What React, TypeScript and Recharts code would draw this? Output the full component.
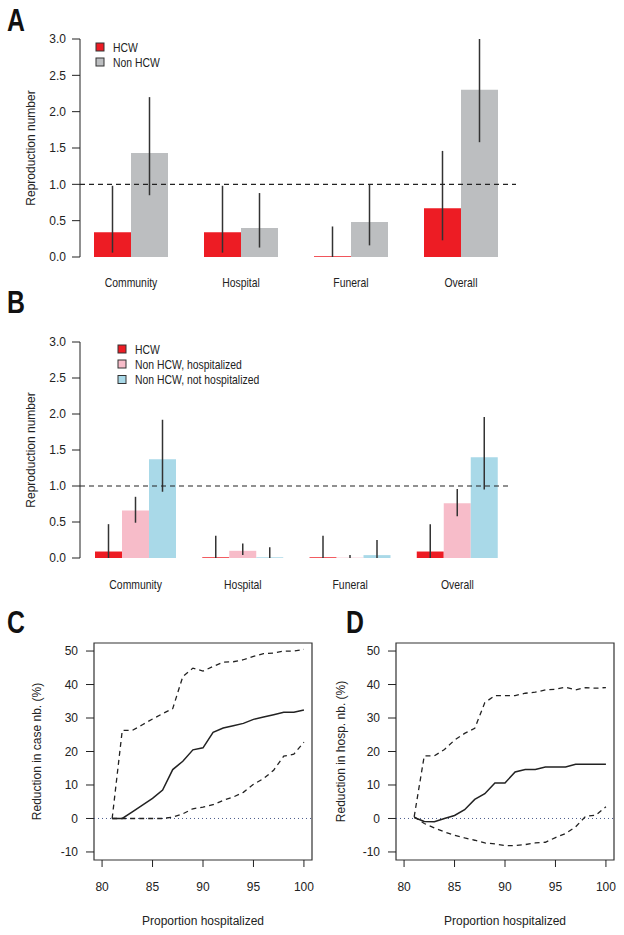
import React from "react";
import {
  BarChart,
  Bar,
  ErrorBar,
  LineChart,
  Line,
  XAxis,
  YAxis,
  ReferenceLine,
  ReferenceArea,
} from "recharts";

const categories = ["Community", "Hospital", "Funeral", "Overall"];

// Panel A
const hcwA = [0.34, 0.34, 0.01, 0.67];
const hcwALow = [0.06, 0.06, 0, 0.23];
const hcwAHigh = [0.98, 0.98, 0.42, 1.46];
const nonHcwA = [1.43, 0.4, 0.48, 2.3];
const nonHcwALow = [0.85, 0.13, 0.16, 1.58];
const nonHcwAHigh = [2.2, 0.88, 1.0, 3.0];

// Panel B
const hcwB = [0.09, 0.01, 0.01, 0.09];
const hcwBLow = [0, 0, 0, 0];
const hcwBHigh = [0.47, 0.31, 0.31, 0.47];
const hospB = [0.66, 0.1, 0.005, 0.76];
const hospBLow = [0.49, 0.04, 0, 0.58];
const hospBHigh = [0.85, 0.2, 0.04, 0.96];
const notHospB = [1.37, 0.01, 0.04, 1.4];
const notHospBLow = [0.92, 0, 0, 0.95];
const notHospBHigh = [1.92, 0.15, 0.25, 1.96];

const rTicks = [0, 0.5, 1, 1.5, 2, 2.5, 3];

// Panels C and D
const propHosp = [81, 82, 83, 84, 85, 86, 87, 88, 89, 90, 91, 92, 93, 94, 95, 96, 97, 98, 99, 100];
const caseMid = [0, 0, 2, 4, 6, 8.5, 14.6, 17.1, 20.5, 21.1, 25.7, 27, 27.7, 28.4, 29.6, 30.3, 31, 31.7, 31.7, 32.4];
const caseHigh = [0, 26.3, 26.3, 28, 29.7, 31.3, 32.8, 42.4, 44.9, 44, 45.4, 46.7, 46.8, 47.4, 48.4, 49.2, 49.4, 50, 50, 50.5];
const caseLow = [0, 0, 0, 0, 0, 0, 0.4, 1.4, 2.9, 3.4, 4.1, 5.4, 6.4, 7.8, 10.2, 11.9, 14.4, 18.6, 19.2, 22.8];
const hospMid = [0.3, -0.9, -1, 0, 0.9, 2.6, 5.7, 7.4, 10.6, 10.6, 13.9, 14.6, 14.6, 15.4, 15.4, 15.4, 16.2, 16.2, 16.2, 16.2];
const hospHigh = [0.5, 18.7, 18.7, 20.6, 23.4, 25.4, 26.9, 34.6, 36.7, 36.7, 36.7, 37.4, 37.7, 38.4, 38.6, 39.2, 38.4, 39.1, 38.9, 39.1];
const hospLow = [0.5, -1.5, -2.8, -4, -5, -5.8, -6.5, -7.3, -7.6, -8.1, -8.1, -7.8, -7.3, -7.1, -5.7, -4.5, -2.5, 0.7, 1, 3.5];

const xTicks = [80, 85, 90, 95, 100];
const yTicks = [-10, 0, 10, 20, 30, 40, 50];

const RED = "#ed1c24";
const GREY = "#bcbec0";
const PINK = "#f7bcc9";
const BLUE = "#a9d9e8";
const INK = "#222";
const SANS = "'Liberation Sans', Arial, sans-serif";

const err = (v: number, lo: number, hi: number) => [v - lo, hi - v];

const dataA = categories.map((c, i) => ({
  cat: c,
  hcw: hcwA[i],
  hcwErr: err(hcwA[i], hcwALow[i], hcwAHigh[i]),
  non: nonHcwA[i],
  nonErr: err(nonHcwA[i], nonHcwALow[i], nonHcwAHigh[i]),
}));

const dataB = categories.map((c, i) => ({
  cat: c,
  hcw: hcwB[i],
  hcwErr: err(hcwB[i], hcwBLow[i], hcwBHigh[i]),
  hosp: hospB[i],
  hospErr: err(hospB[i], hospBLow[i], hospBHigh[i]),
  notHosp: notHospB[i],
  notHospErr: err(notHospB[i], notHospBLow[i], notHospBHigh[i]),
}));

const dataC = propHosp.map((x, i) => ({ x, mid: caseMid[i], lo: caseLow[i], hi: caseHigh[i] }));
const dataD = propHosp.map((x, i) => ({ x, mid: hospMid[i], lo: hospLow[i], hi: hospHigh[i] }));

const tickStyle = { fill: INK, fontSize: 12, fontFamily: SANS };

// the original uses a condensed face; squeeze Liberation Sans horizontally
function NarrowText({ x, y, children, anchor = "start", size = 13, bold = false, dy }: any) {
  return (
    <text
      transform={`translate(${x},${y}) scale(0.8,1)`}
      textAnchor={anchor}
      dy={dy}
      fontSize={size}
      fontWeight={bold ? "bold" : "normal"}
      fontFamily={SANS}
      fill={bold ? "#111" : INK}
    >
      {children}
    </text>
  );
}

const CatTick = (props: any) => (
  <NarrowText x={props.x} y={props.y} anchor="middle" dy="0.71em">
    {props.payload.value}
  </NarrowText>
);

function errBar(key: string) {
  return <ErrorBar dataKey={key} width={0} stroke="#333" strokeWidth={1.5} direction="y" />;
}

function RepYAxis() {
  return (
    <YAxis
      domain={[0, 3]}
      ticks={rTicks}
      tickFormatter={(v: number) => v.toFixed(1)}
      width={80}
      tick={tickStyle}
      tickSize={8}
      tickMargin={6}
      stroke={INK}
      allowDataOverflow
      label={{
        value: "Reproduction number",
        angle: -90,
        position: "insideLeft",
        offset: 31,
        style: { textAnchor: "middle", fill: INK, fontSize: 12, fontFamily: SANS },
      }}
    />
  );
}

function PanelA() {
  return (
    <BarChart width={560} height={300} data={dataA} barGap={0} margin={{ top: 39, right: 44, bottom: 0, left: 0 }}>
      <XAxis dataKey="cat" height={43} axisLine={false} tickLine={false} tickSize={8} tickMargin={13} tick={<CatTick />} padding={{ left: -4, right: 0 }} />
      {RepYAxis()}
      <Bar dataKey="hcw" fill={RED} barSize={37} isAnimationActive={false}>
        {errBar("hcwErr")}
      </Bar>
      <Bar dataKey="non" fill={GREY} barSize={37} isAnimationActive={false}>
        {errBar("nonErr")}
      </Bar>
      <ReferenceLine y={1} stroke={INK} strokeDasharray="5 4" strokeWidth={1.2} />
    </BarChart>
  );
}

function PanelB() {
  return (
    <BarChart width={560} height={300} data={dataB} barGap={0} margin={{ top: 42, right: 49, bottom: 0, left: 0 }}>
      <XAxis dataKey="cat" height={42} axisLine={false} tickLine={false} tickSize={8} tickMargin={14} tick={<CatTick />} padding={{ left: 2, right: 0 }} />
      {RepYAxis()}
      <Bar dataKey="hcw" fill={RED} barSize={27} isAnimationActive={false}>
        {errBar("hcwErr")}
      </Bar>
      <Bar dataKey="hosp" fill={PINK} barSize={27} isAnimationActive={false}>
        {errBar("hospErr")}
      </Bar>
      <Bar dataKey="notHosp" fill={BLUE} barSize={27} isAnimationActive={false}>
        {errBar("notHospErr")}
      </Bar>
      <ReferenceLine y={1} stroke={INK} strokeDasharray="5 4" strokeWidth={1.2} />
    </BarChart>
  );
}

function ReductionPanel({ data, yLabel, yWidth }: { data: any[]; yLabel: string; yWidth: number }) {
  return (
    <LineChart width={320} height={335} data={data} margin={{ top: 43, right: 320 - yWidth - 218, bottom: 5, left: 0 }}>
      <XAxis
        dataKey="x"
        type="number"
        domain={[79.2, 100.8]}
        ticks={xTicks}
        allowDataOverflow
        axisLine={false}
        stroke={INK}
        tickSize={7}
        tickMargin={15}
        tick={tickStyle}
        height={70}
        label={{ value: "Proportion hospitalized", position: "insideBottom", offset: 5, style: { fill: INK, fontSize: 12, fontFamily: SANS } }}
      />
      <YAxis
        type="number"
        domain={[-12.4, 52.4]}
        ticks={yTicks}
        allowDataOverflow
        axisLine={false}
        stroke={INK}
        width={yWidth}
        tickSize={8}
        tickMargin={8}
        tick={tickStyle}
        label={{
          value: yLabel,
          angle: -90,
          position: "insideLeft",
          offset: 37,
          style: { textAnchor: "middle", fill: INK, fontSize: 12, fontFamily: SANS },
        }}
      />
      <ReferenceLine y={0} stroke="#4b5b8c" strokeDasharray="1 3" strokeWidth={1} />
      <ReferenceArea x1={79.2} x2={100.8} y1={-12.4} y2={52.4} fill="none" stroke="#333" strokeWidth={1.2} />
      <Line dataKey="hi" type="linear" stroke={INK} strokeWidth={1.3} strokeDasharray="5 4" dot={false} isAnimationActive={false} />
      <Line dataKey="lo" type="linear" stroke={INK} strokeWidth={1.3} strokeDasharray="5 4" dot={false} isAnimationActive={false} />
      <Line dataKey="mid" type="linear" stroke={INK} strokeWidth={1.5} dot={false} isAnimationActive={false} />
    </LineChart>
  );
}

function LegendRow({ x, y, color, text }: { x: number; y: number; color: string; text: string }) {
  return (
    <g>
      <rect x={x} y={y - 4} width={8} height={8} fill={color} stroke="#333" strokeWidth={1} />
      <NarrowText x={x + 17} y={y + 4.5}>
        {text}
      </NarrowText>
    </g>
  );
}

export default function App() {
  return (
    <div style={{ position: "absolute", left: 0, top: 0, width: 624, height: 935, background: "#fff", overflow: "hidden" }}>
      <div style={{ position: "absolute", left: 0, top: 0 }}>
        <PanelA />
      </div>
      <div style={{ position: "absolute", left: 0, top: 300 }}>
        <PanelB />
      </div>
      <div style={{ position: "absolute", left: 0, top: 600 }}>
        <ReductionPanel data={dataC} yLabel="Reduction in case nb. (%)" yWidth={94} />
      </div>
      <div style={{ position: "absolute", left: 304, top: 600 }}>
        <ReductionPanel data={dataD} yLabel="Reduction in hosp. nb. (%)" yWidth={92} />
      </div>
      <svg width={624} height={935} style={{ position: "absolute", left: 0, top: 0, pointerEvents: "none" }}>
        <NarrowText x={7} y={31} size={31} bold>A</NarrowText>
        <NarrowText x={7} y={313} size={31} bold>B</NarrowText>
        <NarrowText x={7} y={633} size={31} bold>C</NarrowText>
        <NarrowText x={346} y={633} size={31} bold>D</NarrowText>
        <LegendRow x={96} y={47} color={RED} text="HCW" />
        <LegendRow x={96} y={62} color={GREY} text="Non HCW" />
        <LegendRow x={118} y={349} color={RED} text="HCW" />
        <LegendRow x={118} y={364} color={PINK} text="Non HCW, hospitalized" />
        <LegendRow x={118} y={379.5} color={BLUE} text="Non HCW, not hospitalized" />
      </svg>
    </div>
  );
}
